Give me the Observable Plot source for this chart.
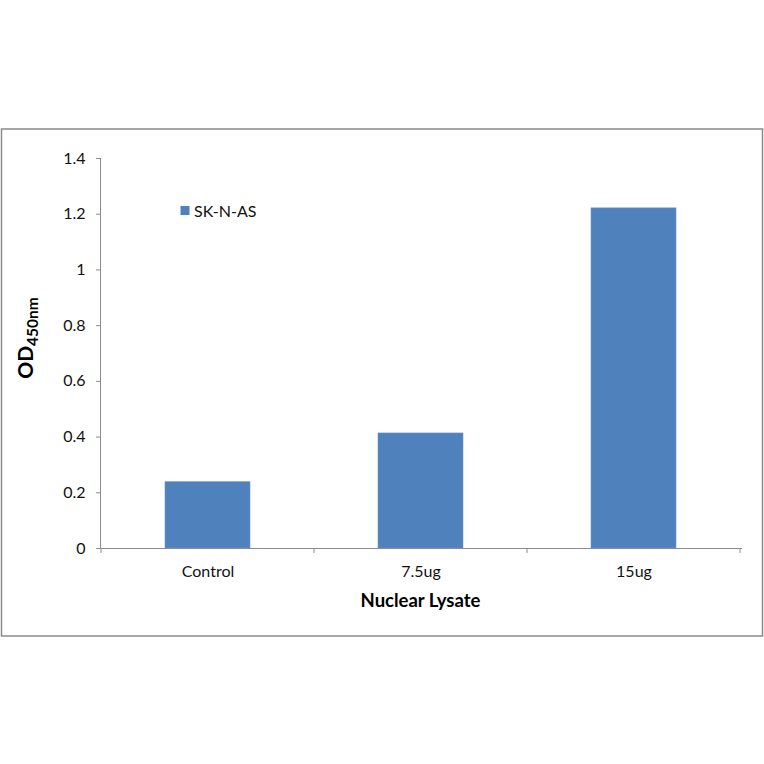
<!DOCTYPE html>
<html>
<head>
<meta charset="utf-8">
<script src="https://cdn.jsdelivr.net/npm/d3@7"></script>
<script src="https://cdn.jsdelivr.net/npm/@observablehq/plot@0.6"></script>
<style>
  html, body { margin: 0; padding: 0; background: #fff; }
  #chart svg { display: block; }
</style>
</head>
<body>
<div id="chart"></div>
<script>
const categories = ["Control", "7.5ug", "15ug"];
const values = [0.238, 0.413, 1.221];
const seriesName = "SK-N-AS";
const yTicks = [0, 0.2, 0.4, 0.6, 0.8, 1, 1.2, 1.4];
const xTitle = "Nuclear Lysate";

const data = categories.map((c, i) => ({category: c, value: values[i]}));
const FONT = "Lato, 'Open Sans', sans-serif";
const barColor = "#4F81BD";
const axisColor = "#8c8c8c";
const textColor = "#111";

const chart = Plot.plot({
  width: 764,
  height: 764,
  marginLeft: 100,
  marginRight: 23,
  marginTop: 158,
  marginBottom: 216,
  style: {fontFamily: FONT, fontSize: "16px", color: textColor, background: "#fff"},
  x: {domain: categories, paddingInner: 0.6, paddingOuter: 0.3, label: null},
  y: {domain: [0, 1.4], label: null},
  marks: [
    Plot.barY(data, {x: "category", y: "value", fill: barColor, stroke: "#6f97c9", strokeWidth: 0.6}),
    Plot.frame({anchor: "left", stroke: axisColor}),
    Plot.frame({anchor: "bottom", stroke: axisColor}),
    Plot.axisY({ticks: yTicks, tickFormat: d3.format("~g"), tickSize: 4, tickPadding: 11, stroke: axisColor, fill: textColor, fontSize: 16}),
    Plot.axisX({tickSize: 0, tickPadding: 17, fill: textColor, fontSize: 16})
  ]
});

document.getElementById("chart").appendChild(chart);

const svg = d3.select(chart);
const xs = chart.scale("x");
const ys = chart.scale("y");
const y0 = ys.apply(0);
const step = xs.step;
const bw = xs.bandwidth;

// outer chart border
svg.insert("rect", ":first-child")
  .attr("x", 1.5).attr("y", 129).attr("width", 761).attr("height", 507)
  .attr("fill", "#fff").attr("stroke", "#8a8a8a").attr("stroke-width", 1.5);

// category boundary ticks
const bounds = categories.map(c => xs.apply(c) - (step - bw) / 2);
bounds.push(xs.apply(categories[categories.length - 1]) + bw + (step - bw) / 2);
svg.append("g").selectAll("line").data(bounds).join("line")
  .attr("x1", d => d).attr("x2", d => d)
  .attr("y1", y0).attr("y2", y0 + 5)
  .attr("stroke", axisColor);

// legend
svg.append("rect").attr("x", 180.5).attr("y", 206).attr("width", 9).attr("height", 9).attr("fill", barColor);
svg.append("text").attr("x", 194).attr("y", 216.5)
  .attr("text-anchor", "start")
  .attr("font-family", FONT).attr("font-size", 16).attr("fill", textColor)
  .text(seriesName);

// x-axis title
svg.append("text")
  .attr("x", (xs.range[0] + xs.range[1]) / 2).attr("y", 607)
  .attr("text-anchor", "middle")
  .attr("font-family", FONT).attr("font-size", 18.5).attr("font-weight", "bold").attr("fill", "#000")
  .text(xTitle);

// y-axis title OD450nm
const yt = svg.append("text")
  .attr("transform", "translate(33,338) rotate(-90)")
  .attr("text-anchor", "middle")
  .attr("font-family", FONT).attr("font-weight", "bold").attr("fill", "#000");
yt.append("tspan").attr("font-size", 21).text("OD");
yt.append("tspan").attr("font-size", 15.5).attr("dy", 4.5).text("450nm");
</script>
</body>
</html>
